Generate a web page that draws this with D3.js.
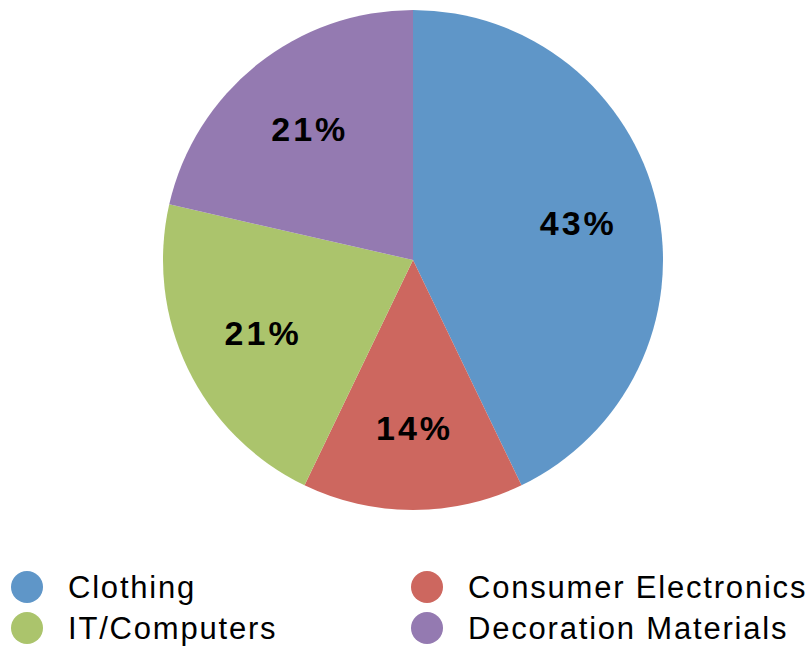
<!DOCTYPE html>
<html>
<head>
<meta charset="utf-8">
<script src="https://cdn.jsdelivr.net/npm/d3@7/dist/d3.min.js"></script>
<style>
  html, body { margin: 0; padding: 0; background: #fff; }
  svg { display: block; }
  text { font-family: "Liberation Sans", Arial, Helvetica, sans-serif; }
</style>
</head>
<body>
<svg id="chart" width="810" height="646"></svg>
<script>
// Sales share by product category
const categories = ["Clothing", "Consumer Electronics", "IT/Computers", "Decoration Materials"];
const values = [6, 2, 3, 3];
const colors = ["#5f96c8", "#cd675f", "#abc46c", "#947ab1"];

const width = 810, height = 646;
const cx = 413, cy = 260, radius = 250, labelRadius = 168;

const svg = d3.select("#chart");
const total = d3.sum(values);

const pie = d3.pie().sort(null).value(d => d.value);
const data = categories.map((c, i) => ({ name: c, value: values[i], color: colors[i] }));
const arcs = pie(data);

const arc = d3.arc().innerRadius(0).outerRadius(radius);
const labelArc = d3.arc().innerRadius(labelRadius).outerRadius(labelRadius);

const g = svg.append("g").attr("transform", `translate(${cx},${cy})`);

g.selectAll("path.slice")
  .data(arcs)
  .join("path")
  .attr("class", "slice")
  .attr("d", arc)
  .attr("fill", d => d.data.color);

// Percentage labels (letter-spacing widens the glyphs; shift by half the trailing gap)
const pctSpacing = 3;
g.selectAll("text.pct")
  .data(arcs)
  .join("text")
  .attr("class", "pct")
  .attr("transform", d => {
    const [x, y] = labelArc.centroid(d);
    return `translate(${x + pctSpacing / 2},${y})`;
  })
  .attr("text-anchor", "middle")
  .attr("dy", "0.36em")
  .attr("font-size", 34)
  .attr("font-weight", "bold")
  .attr("letter-spacing", pctSpacing)
  .attr("fill", "#000")
  .text(d => Math.round(d.data.value / total * 100) + "%");

// Legend: two columns, two rows
const legend = svg.append("g");
const legendPos = [
  { x: 27, y: 587 },
  { x: 427, y: 587 },
  { x: 27, y: 628 },
  { x: 427, y: 628 }
];
const items = legend.selectAll("g.item")
  .data(data)
  .join("g")
  .attr("class", "item")
  .attr("transform", (d, i) => `translate(${legendPos[i].x},${legendPos[i].y})`);

items.append("circle")
  .attr("r", 16)
  .attr("fill", d => d.color);

items.append("text")
  .attr("x", 41)
  .attr("dy", "0.36em")
  .attr("font-size", 31)
  .attr("letter-spacing", 1.8)
  .attr("fill", "#000")
  .text(d => d.name);
</script>
</body>
</html>
